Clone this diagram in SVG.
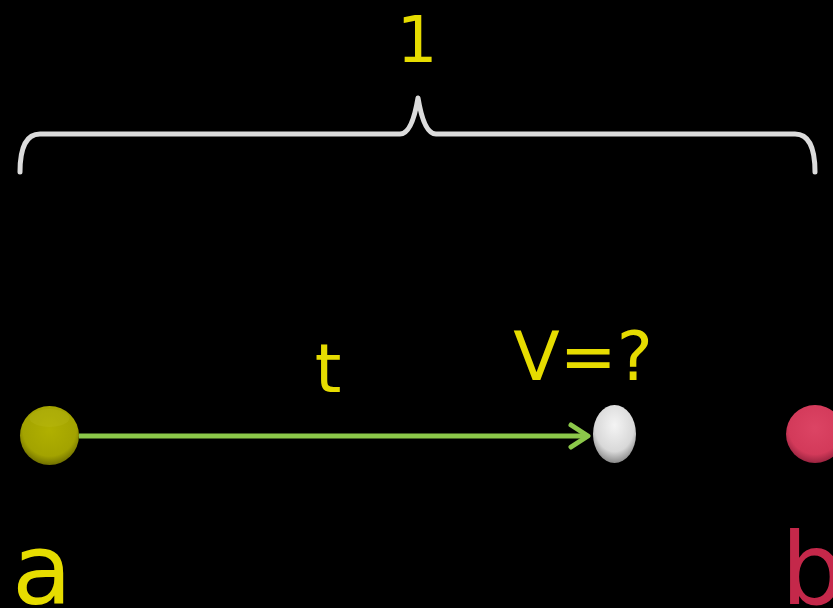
<svg xmlns="http://www.w3.org/2000/svg" width="833" height="608" viewBox="0 0 833 608">
<style>
.lbl{font-family:"DejaVu Sans",Verdana,sans-serif;fill:#e6dc00}
</style>
<defs>
<radialGradient id="gy" cx="0.5" cy="0.4" r="0.6">
<stop offset="0" stop-color="#b0b000"/><stop offset="0.75" stop-color="#a3a300"/><stop offset="1" stop-color="#707000"/>
</radialGradient>
<radialGradient id="gw" cx="0.5" cy="0.35" r="0.65">
<stop offset="0" stop-color="#f4f4f4"/><stop offset="0.7" stop-color="#d8d8d8"/><stop offset="1" stop-color="#8a8a8a"/>
</radialGradient>
<radialGradient id="gr" cx="0.5" cy="0.4" r="0.6">
<stop offset="0" stop-color="#dc4464"/><stop offset="0.75" stop-color="#d33a5a"/><stop offset="1" stop-color="#9a2440"/>
</radialGradient>
</defs>
<rect width="833" height="608" fill="#000"/>
<g id="connectors">
<line x1="79" y1="436" x2="588" y2="436" stroke="#8cc84a" stroke-width="5"/>
<path d="M571,425 L588,436 L571,447" fill="none" stroke="#8cc84a" stroke-width="5" stroke-linecap="round" stroke-linejoin="round"/>
</g>
<g id="brace">
<path d="M20,172 Q20,134 40,134 L400,134 Q412,134 418,98 Q424,134 436,134 L795,134 Q815,134 815,172" fill="none" stroke="#dcdcdc" stroke-width="5" stroke-linecap="round" stroke-linejoin="round"/>
</g>
<g id="node-a">
<circle cx="49.5" cy="435.5" r="29.5" fill="url(#gy)"/>
<ellipse cx="49.5" cy="418" rx="20" ry="9" fill="#c0c020" opacity="0.25"/>
</g>
<g id="node-v">
<ellipse cx="614.5" cy="434" rx="21.5" ry="29" fill="url(#gw)"/>
</g>
<g id="node-b">
<circle cx="815" cy="434" r="29" fill="url(#gr)"/>
</g>
<text class="lbl" x="417" y="62" font-size="64" text-anchor="middle">1</text>
<text class="lbl" x="328" y="392" font-size="68" text-anchor="middle">t</text>
<text class="lbl" x="583" y="380" font-size="68" text-anchor="middle">V=?</text>
<text class="lbl" x="12" y="604" font-size="98">a</text>
<text x="781" y="604" font-size="100" font-family="DejaVu Sans,Verdana,sans-serif" fill="#c4284a">b</text>
</svg>
